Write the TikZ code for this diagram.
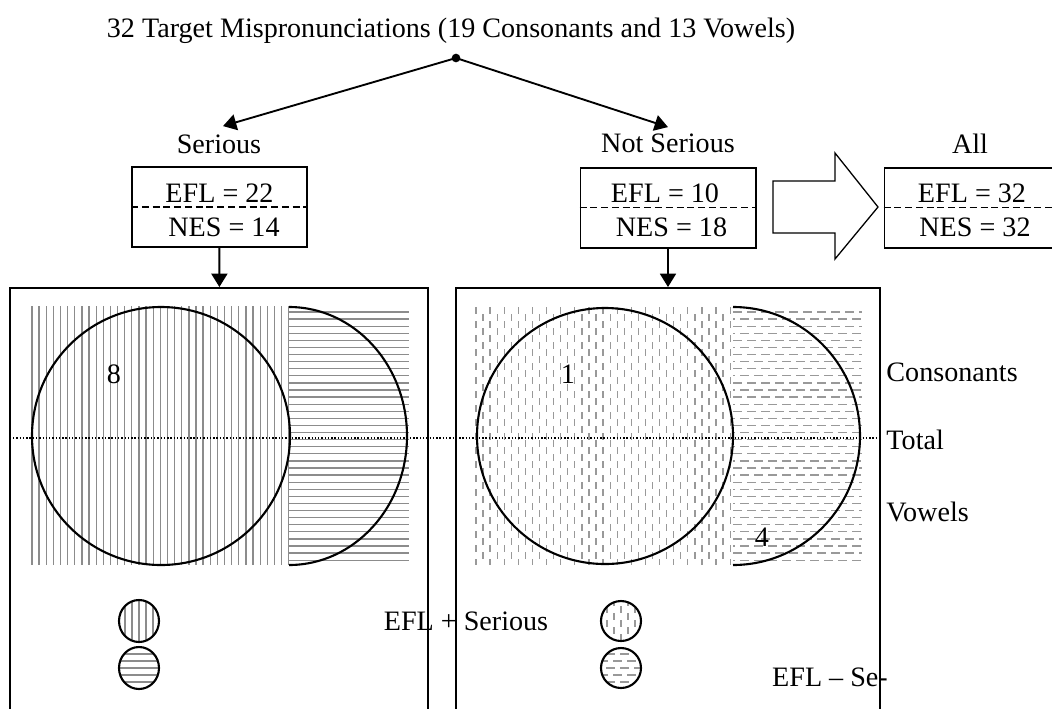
\documentclass[tikz,border=0pt]{standalone}
\usepackage{fontspec}
\setmainfont{Liberation Serif}
\usetikzlibrary{arrows.meta, positioning}
\tikzset{
    valbox/.style={draw, line width=0.85pt, minimum width=2.625cm, minimum height=1.2cm, inner sep=0pt},
    panel/.style={draw, line width=0.85pt, minimum width=#1, minimum height=7cm, inner sep=0pt, anchor=north},
    lbl/.style={inner sep=0pt},
    link/.style={line width=0.8pt, -{Triangle[length=0.2cm, width=0.24cm]}},
    ring/.style={line width=0.9pt},
    solidv/.style={draw=gray!90, line width=0.55pt},
    dashv/.style={draw=gray!80, line width=0.55pt, dash pattern=on 0.105cm off 0.105cm},
    dashh/.style={draw=gray!80, line width=0.55pt, dash pattern=on 0.14cm off 0.07cm},
    splitline/.style={line width=0.6pt, dash pattern=on 3pt off 1.6pt},
}

\begin{document}
\begin{tikzpicture}[x=0.015cm, y=-0.015cm, font=\fontsize{12}{14}\selectfont]
    \useasboundingbox (0,0) rectangle (1052,708);
    \clip (0,0) rectangle (1052,708);
    % tree on top
    \node[lbl, anchor=base] (title) at (451,37) {32 Target Mispronunciations (19 Consonants and 13 Vowels)};
    \coordinate (root) at (456,58);
    \fill (root) circle (0.065cm);
    \node[lbl] (lS) at (219,144) {Serious};
    \node[lbl] (lN) at (668,143) {Not Serious};
    \node[lbl] (lA) at (970,144) {All};
    \draw[link] (root) -- ([xshift=0.06cm, yshift=0.12cm]lS.north);
    \draw[link] (root) -- ([yshift=0.09cm]lN.north);
    % count boxes
    \node[valbox] (bS) at (219.5,207) {};
    \node[valbox] (bN) at (668,207.5) {};
    \node[valbox] (bA) at (972,207.5) {};
    \foreach \b in {bS,bN,bA}
        \draw[splitline] (\b.west) -- (\b.east);
    \node[lbl] (eS) at (219.5,193) {EFL = 22};
    \node[lbl] (nS) at (224,227) {NES = 14};
    \node[lbl] (eN) at (665,193) {EFL = 10};
    \node[lbl] (nN) at (671.5,227) {NES = 18};
    \node[lbl] (eA) at (972,193) {EFL = 32};
    \node[lbl] (nA) at (975,227) {NES = 32};
    % hollow arrow
    \draw[line width=0.55pt] (773,181) -- (835,181) -- (835,153) -- (878,207)
        -- (835,259) -- (835,233) -- (773,233) -- cycle;
    % panels
    \node[panel=6.27cm] (pS) at (219,287) {};
    \node[panel=6.36cm] (pN) at (668,287) {};
    \draw[link] (bS) -- (pS);
    \draw[link] (bN) -- (pN);
    % serious: hatching
    \foreach \i in {0,...,36}
        \draw[solidv] ({32+7.13*\i},306) -- ++(0,259);
    \foreach \i in {0,...,35}
        \draw[solidv] (289,{312+7.09*\i}) -- ++(120,0);
    \draw[ring] (161,436) circle [radius=129];
    \draw[ring] (289,307) arc[start angle=-90, end angle=90, x radius=118, y radius=129];
    % not serious: dashed hatching
    \foreach \i in {0,...,36}{
        \pgfmathsetmacro\ph{0.105*mod(\i,2)}
        \draw[dashv, dash phase=\ph cm] ({476+7.06*\i},307) -- ++(0,258);
    }
    \foreach \i in {0,...,35}{
        \pgfmathsetmacro\ph{0.105*mod(\i,2)}
        \draw[dashh, dash phase=\ph cm] (733,{312+7.09*\i}) -- ++(129,0);
    }
    \draw[ring] (605,436) circle [radius=128];
    \draw[ring] (733,307) arc[start angle=-90, end angle=90, x radius=127, y radius=129];
    \draw[line width=0.5pt, dash pattern=on 0.6pt off 0.8pt] (13,438) -- (877,438);
    \node[lbl] (n8) at (114,374) {8};
    \node[lbl] (n1) at (568,374) {1};
    \node[lbl] (n4) at (762,537) {4};
    \node[lbl, anchor=west] (cons) at (886,372) {Consonants};
    \node[lbl, anchor=west] (tot) at (886,440) {Total};
    \node[lbl, anchor=west] (vow) at (886,512) {Vowels};
    % legends
    \begin{scope}
        \clip (139,621) ellipse [x radius=20, y radius=21];
        \foreach \i in {-3,...,3}
            \draw[solidv] ({139+7*\i},598) -- ++(0,46);
    \end{scope}
    \begin{scope}
        \clip (139,668) ellipse [x radius=20, y radius=21];
        \foreach \i in {-3,...,3}
            \draw[solidv] (117,{668+7*\i}) -- ++(44,0);
    \end{scope}
    \draw[ring] (139,621) ellipse [x radius=20, y radius=21];
    \draw[ring] (139,668) ellipse [x radius=20, y radius=21];
    \begin{scope}
        \clip (621,621) circle [radius=20];
        \foreach \i in {-3,...,3}{
            \pgfmathsetmacro\ph{0.105*mod(\i+3,2)}
            \draw[dashv, dash phase=\ph cm] ({621+7*\i},599) -- ++(0,44);
        }
    \end{scope}
    \begin{scope}
        \clip (621,668) circle [radius=20];
        \foreach \i in {-3,...,3}{
            \pgfmathsetmacro\ph{0.105*mod(\i+3,2)}
            \draw[dashh, dash phase=\ph cm] (599,{668+7*\i}) -- ++(44,0);
        }
    \end{scope}
    \draw[ring] (621,621) circle [radius=20];
    \draw[ring] (621,668) circle [radius=20];
    \node[lbl] (legS) at (466,621) {EFL + Serious};
    \node[lbl] (legN) at (830,677) {EFL -- Se-};
\end{tikzpicture}
\end{document}
